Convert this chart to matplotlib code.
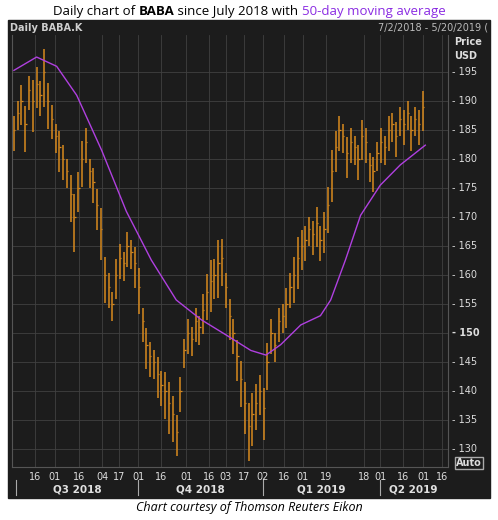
import numpy as np
import matplotlib.pyplot as plt
from matplotlib.patches import Rectangle

# closes read every ~2 trading days, Jul 2018 - May 2019
close = [185, 188, 190, 186, 192, 190, 193, 191, 195, 190, 187, 184,
         182, 180, 178, 174, 170, 175, 180, 183, 178, 176, 172, 168,
         160, 158, 155, 160, 163, 162, 165, 164, 162, 158, 152, 148,
         146, 145, 143, 141, 140, 138, 136, 133, 140, 147, 150, 149,
         152, 151, 154, 157, 159, 160, 162, 163, 158, 153, 150, 146,
         142, 138, 134, 136, 138, 140, 137, 145, 150, 148, 152, 153,
         155, 158, 160, 163, 165, 166, 168, 167, 169, 166, 168, 172,
         178, 182, 185, 184, 181, 183, 182, 180, 184, 183, 179, 178,
         181, 183, 182, 185, 186, 184, 187, 186, 188, 185, 187, 186, 189]
spread = [6, 5, 7, 8, 6, 9, 7, 6, 10, 8, 6, 5,
          7, 6, 5, 8, 10, 7, 8, 6, 5, 6, 7, 9,
          8, 6, 5, 7, 6, 5, 6, 5, 7, 8, 6, 7,
          6, 5, 7, 6, 8, 9, 8, 7, 6, 5, 6, 5,
          6, 5, 7, 8, 9, 7, 10, 8, 6, 7, 6, 7,
          8, 9, 10, 9, 8, 7, 9, 8, 6, 5, 6, 5,
          7, 6, 8, 9, 7, 6, 5, 6, 7, 6, 7, 8,
          9, 7, 6, 5, 7, 6, 5, 6, 7, 6, 5, 6,
          5, 6, 5, 6, 5, 6, 5, 6, 5, 6, 5, 6, 7]
ma_x = [0, 6, 11.3, 16.6, 23.2, 29.7, 36.3, 42.9, 49.5, 56, 62.6, 66.6, 70.5,
        75.8, 81, 83.7, 87.6, 91.6, 96.8, 102.1, 108.7]
ma_y = [195.3, 197.6, 196, 191, 181.5, 171, 162.6, 155.7, 152.3, 149.7, 147,
        146.2, 148, 151.4, 153, 155.7, 162.6, 170.3, 175.5, 179, 182.4]
tick_pos = [5.5, 10.8, 17.1, 23.4, 27.9, 32.9, 38.9, 45.5, 51.6, 56, 60.8, 65.8,
            71.3, 76.3, 82.4, 92.4, 96.8, 102.9, 108.2, 113.2]
tick_lab = ['16', '01', '16', '04', '17', '01', '16', '01', '16', '03', '17', '02',
            '16', '01', '19', '18', '01', '16', '01', '16']
quarters = ['Q3 2018', 'Q4 2018', 'Q1 2019', 'Q2 2019']
q_bounds = [0.5, 32.9, 65.8, 96.8, 116]

fig = plt.figure(figsize=(4.98, 5.20), dpi=100)
fig.patches.append(Rectangle((8/498, 22/520), 482/498, 478/520, transform=fig.transFigure,
                             color='#1c1c1c', zorder=-10))

# title in three styles, centred as a whole
parts = [('Daily chart of ', {}), ('BABA', dict(weight='bold')),
         (' since July 2018 with ', {}), ('50-day moving average', dict(color='#8a2be2'))]
fig.canvas.draw()
r = fig.canvas.get_renderer()
texts = []
for s, kw in parts:
    texts.append(fig.text(0, 0.978, s, ha='left', va='center', fontsize=9.5, family='Open Sans', **kw))
widths = [t.get_window_extent(r).width for t in texts]
x0 = (498 - sum(widths)) / 2
for t, w in zip(texts, widths):
    t.set_x(x0 / 498)
    x0 += w

fig.text(8/498 + 0.005, 492/520, 'Daily BABA.K', color='#cfcfcf', fontsize=7, weight='bold', va='center')
fig.text(488/498, 492/520, '7/2/2018 - 5/20/2019 (', color='#bbbbbb', fontsize=7, ha='right', va='center')
fig.text(454/498, 478/520, 'Price', color='#dddddd', fontsize=7, weight='bold', va='center')
fig.text(454/498, 464/520, 'USD', color='#dddddd', fontsize=7, weight='bold', va='center')
fig.text(456/498, 57/520, 'Auto', color='#dddddd', fontsize=7, weight='bold', va='center',
         bbox=dict(facecolor='#1c1c1c', edgecolor='#aaaaaa', pad=1))
fig.text(0.5, 0.024, 'Chart courtesy of Thomson Reuters Eikon', ha='center', va='center',
         fontsize=9, style='italic', family='Open Sans')

ax = fig.add_axes([12/498, 53/520, 436/498, 432/520])
ax.set_facecolor('#1c1c1c')
x = np.arange(len(close))
c = np.array(close, float)
s = np.array(spread, float)
ax.vlines(x, c - s * 0.6, c + s * 0.4, color='#d98a1e', lw=1.1)
ax.hlines(c, x, x + 0.35, color='#d98a1e', lw=0.9)
ax.plot(ma_x, ma_y, color='#b040e0', lw=1)
ax.set_xlim(-0.5, 114.7)
ax.set_ylim(126.9, 201.4)
for v in range(130, 200, 5):
    ax.axhline(v, color='#404040', lw=0.6, zorder=0)
for p in tick_pos:
    ax.axvline(p, color='#404040', lw=0.6, zorder=0)
ax.set_xticks([]); ax.set_yticks([])
for sp in ax.spines.values():
    sp.set_color('#555555')
ax.spines['top'].set_visible(False)
for v in range(130, 200, 5):
    ax.annotate('- %d' % v, (1, v), xycoords=('axes fraction', 'data'), xytext=(3, 0),
                textcoords='offset points', color='#dddddd', fontsize=7, va='center',
                weight='bold' if v == 150 else 'normal', annotation_clip=False)
for p, l in zip(tick_pos, tick_lab):
    ax.annotate(l, (p, 0), xycoords=('data', 'axes fraction'), xytext=(0, -7.5),
                textcoords='offset points', color='#dddddd', fontsize=7, ha='center',
                va='center', annotation_clip=False)
for i, q in enumerate(quarters):
    ax.annotate(q, ((q_bounds[i] + min(q_bounds[i + 1], 114)) / 2, 0),
                xycoords=('data', 'axes fraction'), xytext=(0, -16.5), textcoords='offset points',
                color='#e0e0e0', fontsize=7.5, weight='bold', ha='center', va='center',
                annotation_clip=False)
    ax.plot([q_bounds[i]] * 2, [-0.03, -0.065], transform=ax.get_xaxis_transform(),
            color='#aaaaaa', lw=0.8, clip_on=False)
fig.savefig('out.png', dpi=100)
